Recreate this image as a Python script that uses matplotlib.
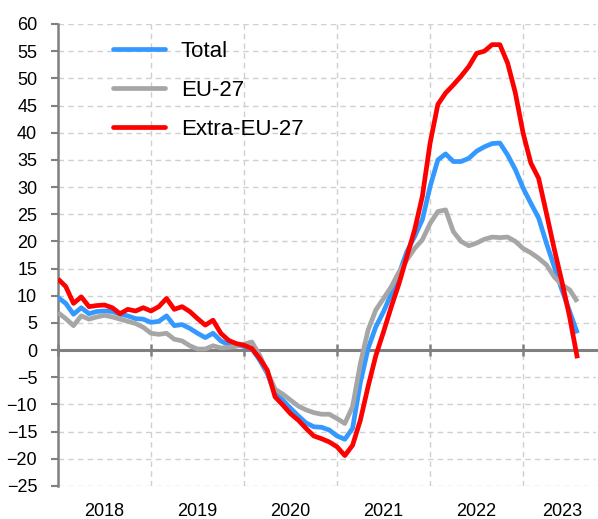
import matplotlib
matplotlib.use("Agg")
import matplotlib.pyplot as plt
import numpy as np

plt.rcParams['font.family'] = ['Liberation Sans', 'DejaVu Sans']

years = ['2018', '2019', '2020', '2021', '2022', '2023']
labels = ['Total', 'EU-27', 'Extra-EU-27']

total = [9.7, 8.6, 6.6, 7.8, 6.7, 7.1, 7.2, 7.1, 6.6, 6.3, 5.8, 5.7,
         5.1, 5.3, 6.3, 4.5, 4.7, 4.0, 3.1, 2.3, 3.1, 1.7, 1.0, 0.9,
         0.7, 0.3, -1.8, -4.3, -8.0, -9.2, -10.7, -12.1, -13.4, -14.1, -14.2, -14.7,
         -15.8, -16.4, -14.4, -6.0, 0.3, 4.3, 7.1, 10.4, 14.1, 18.1, 20.9, 24.0,
         30.1, 35.0, 36.1, 34.7, 34.7, 35.3, 36.6, 37.4, 38.0, 38.1, 35.9, 33.2,
         29.8, 27.0, 24.3, 19.7, 15.4, 11.1, 7.1, 3.1]

eu27 = [6.9, 5.8, 4.5, 6.3, 5.7, 6.1, 6.4, 6.1, 5.7, 5.3, 4.9, 4.2,
        3.1, 2.9, 3.1, 2.0, 1.7, 0.8, 0.2, 0.2, 0.8, 0.4, 0.5, 0.7,
        1.1, 1.5, -0.9, -4.0, -7.2, -8.1, -9.2, -10.3, -11.0, -11.5, -11.8, -11.8,
        -12.6, -13.5, -10.4, -2.5, 3.7, 7.4, 9.5, 11.7, 14.4, 16.6, 18.7, 20.3,
        23.3, 25.5, 25.8, 21.8, 20.0, 19.2, 19.7, 20.4, 20.8, 20.7, 20.8, 20.0,
        18.7, 17.9, 16.9, 15.7, 13.5, 12.0, 11.1, 8.9]

extra_eu27 = [13.1, 11.7, 8.6, 9.8, 8.0, 8.2, 8.3, 7.8, 6.7, 7.5, 7.2, 7.8,
              7.2, 8.0, 9.5, 7.5, 8.0, 7.1, 5.8, 4.6, 5.5, 3.1, 1.8, 1.2,
              0.9, 0.3, -1.5, -3.7, -8.6, -10.1, -11.7, -12.9, -14.4, -15.8, -16.3, -16.9,
              -17.8, -19.4, -17.5, -12.9, -6.7, -1.0, 3.4, 8.0, 12.3, 17.2, 22.1, 28.3,
              38.1, 45.2, 47.3, 48.8, 50.4, 52.2, 54.6, 55.0, 56.2, 56.2, 52.8, 47.3,
              39.9, 34.4, 31.6, 25.2, 18.7, 12.6, 6.1, -1.5]

months = np.arange(len(total))

fig = plt.figure(figsize=(5.98, 5.19), dpi=100)
ax = fig.add_axes([58/598, 33/519, 538/598, 462/519])

colors = ['#3399FF', '#A6A6A6', '#FF0000']
for series, lab, col in zip([total, eu27, extra_eu27], labels, colors):
    ax.plot(months, series, color=col, lw=3.4, label=lab,
            solid_joinstyle='round', solid_capstyle='butt', zorder=3)

ax.set_ylim(-25, 60)
ax.set_xlim(0, 69.4)
ax.set_yticks(np.arange(-25, 61, 5))
ax.set_xticks(np.arange(0, 61, 12))
ax.tick_params(axis='x', labelbottom=False, direction='inout', length=9,
               width=1.8, color='#808080')
ax.tick_params(axis='y', direction='out', length=5, width=1.5, color='#808080',
               labelsize=13, pad=10)

ax.grid(True, color='#D0D0D0', linestyle=(0, (4, 3)), lw=1.0, zorder=0)

for s in ['top', 'right']:
    ax.spines[s].set_visible(False)
ax.spines['left'].set_color('#808080')
ax.spines['left'].set_linewidth(1.8)
ax.spines['bottom'].set_position(('data', 0))
ax.spines['bottom'].set_color('#808080')
ax.spines['bottom'].set_linewidth(2.2)
ax.spines['bottom'].set_zorder(2)

sec = ax.secondary_xaxis('bottom')
sec.spines['bottom'].set_visible(False)
mid = [6, 18, 30, 42, 54, 65]
sec.set_xticks(mid)
sec.set_xticklabels(years)
sec.tick_params(axis='x', length=0, labelsize=13, pad=12)

leg = ax.legend(loc='upper left', bbox_to_anchor=(113/598, (519 - 41)/519),
                bbox_transform=fig.transFigure, frameon=False, fontsize=16,
                handlelength=2.35, handletextpad=0.7, labelspacing=0.80,
                borderpad=0, borderaxespad=0)
for h in leg.get_lines():
    h.set_solid_capstyle('round')

fig.savefig('out.png', dpi=100)
